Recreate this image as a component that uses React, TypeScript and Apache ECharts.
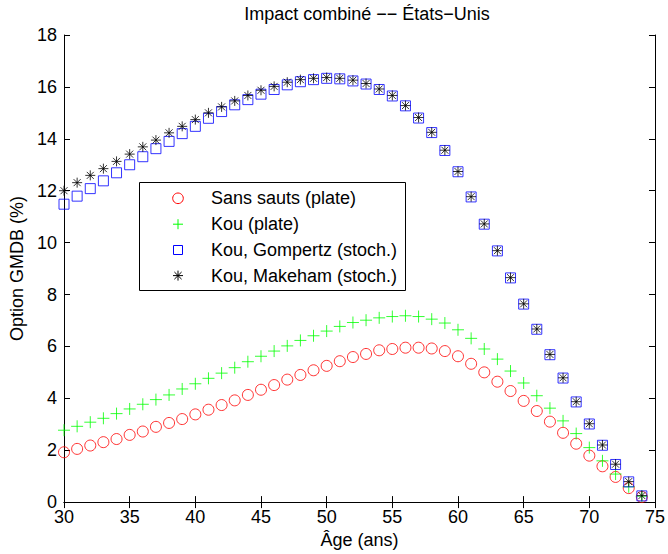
import React, { useEffect, useRef } from "react";
import * as echarts from "echarts";

const ages: number[] = [
  30, 31, 32, 33, 34, 35, 36, 37, 38, 39, 40, 41, 42, 43, 44, 45, 46, 47, 48, 49, 50, 51, 52,
  53, 54, 55, 56, 57, 58, 59, 60, 61, 62, 63, 64, 65, 66, 67, 68, 69, 70, 71, 72, 73, 74,
];

const sansSauts: number[] = [
  1.92, 2.05, 2.18, 2.31, 2.43, 2.59, 2.72, 2.9, 3.05, 3.2, 3.38, 3.56, 3.74, 3.92, 4.13, 4.33,
  4.51, 4.72, 4.9, 5.08, 5.25, 5.43, 5.59, 5.71, 5.85, 5.9, 5.95, 5.95, 5.92, 5.82, 5.62, 5.33,
  5.0, 4.64, 4.28, 3.9, 3.51, 3.1, 2.67, 2.25, 1.79, 1.38, 0.97, 0.54, 0.2,
];

const kouPlate: number[] = [
  2.77, 2.92, 3.08, 3.23, 3.41, 3.59, 3.77, 3.95, 4.13, 4.36, 4.56, 4.77, 4.97, 5.18, 5.41, 5.62,
  5.82, 6.02, 6.23, 6.41, 6.59, 6.77, 6.92, 7.01, 7.1, 7.15, 7.18, 7.15, 7.05, 6.9, 6.64, 6.31,
  5.9, 5.51, 5.05, 4.59, 4.1, 3.62, 3.13, 2.64, 2.1, 1.59, 1.08, 0.59, 0.23,
];

const kouGompertz: number[] = [
  11.48, 11.79, 12.08, 12.38, 12.69, 13.0, 13.31, 13.62, 13.9, 14.2, 14.48, 14.79, 15.05, 15.31,
  15.51, 15.72, 15.9, 16.08, 16.2, 16.28, 16.33, 16.31, 16.23, 16.11, 15.9, 15.65, 15.27, 14.8,
  14.24, 13.55, 12.73, 11.76, 10.71, 9.68, 8.64, 7.63, 6.66, 5.68, 4.78, 3.86, 3.01, 2.19, 1.45,
  0.78, 0.24,
];

const kouMakeham: number[] = [
  12.0, 12.31, 12.59, 12.85, 13.13, 13.41, 13.69, 13.95, 14.23, 14.48, 14.74, 15.0, 15.23, 15.46,
  15.67, 15.87, 16.02, 16.18, 16.28, 16.33, 16.36, 16.33, 16.26, 16.13, 15.92, 15.67, 15.28,
  14.82, 14.25, 13.56, 12.74, 11.77, 10.72, 9.69, 8.65, 7.64, 6.67, 5.69, 4.79, 3.87, 3.02, 2.2,
  1.46, 0.79, 0.25,
];

const seriesNames: string[] = [
  "Sans sauts (plate)",
  "Kou (plate)",
  "Kou, Gompertz (stoch.)",
  "Kou, Makeham (stoch.)",
];

const seriesColors: string[] = ["#ff0000", "#00ff00", "#0000ff", "#000000"];

const titleText = "Impact combiné −− États−Unis";
const xName = "Âge (ans)";
const yName = "Option GMDB (%)";

const FONT = "'Liberation Sans', Arial, Helvetica, sans-serif";

const PLUS = "path://M-5,0L5,0M0,-5L0,5";
const SQUARE = "path://M-5,-5L5,-5L5,5L-5,5Z";
const STAR = "path://M-5,0L5,0M0,-5L0,5M-3.5,-3.5L3.5,3.5M-3.5,3.5L3.5,-3.5";

function pairs(vals: number[]): number[][] {
  return ages.map((a, i) => [a, vals[i]]);
}

function legendIcon(kind: number, cx: number, cy: number, color: string): any {
  const st = { stroke: color, fill: "none", lineWidth: 1 };
  const ln = (x1: number, y1: number, x2: number, y2: number) => ({
    type: "line",
    shape: { x1: cx + x1, y1: cy + y1, x2: cx + x2, y2: cy + y2 },
    style: st,
  });
  if (kind === 0) return { type: "circle", shape: { cx, cy, r: 5.3 }, style: st };
  if (kind === 1) return { type: "group", children: [ln(-5, 0, 5, 0), ln(0, -5, 0, 5)] };
  if (kind === 2)
    return { type: "rect", shape: { x: cx - 4.5, y: cy - 4.5, width: 9, height: 9 }, style: st };
  return {
    type: "group",
    children: [
      ln(-5, 0, 5, 0),
      ln(0, -5, 0, 5),
      ln(-3.6, -3.6, 3.6, 3.6),
      ln(-3.6, 3.6, 3.6, -3.6),
    ],
  };
}

export default function App() {
  const ref = useRef<HTMLDivElement>(null);
  useEffect(() => {
    if (!ref.current) return;
    const chart = echarts.init(ref.current, undefined, { renderer: "svg" });
    const axisLine = { show: true, lineStyle: { color: "#000", width: 1 } };
    const tick = { show: true, inside: true, length: 6, lineStyle: { color: "#000", width: 1 } };
    const labelStyle = { color: "#000", fontSize: 18, fontFamily: FONT };
    const mk = (i: number, data: number[], symbol: string, size: number) => ({
      name: seriesNames[i],
      type: "scatter",
      data: pairs(data),
      symbol,
      symbolSize: size,
      itemStyle: { color: "transparent", borderColor: seriesColors[i], borderWidth: 1 },
      emphasis: { disabled: true },
      silent: true,
    });

    const legX = 139.5;
    const legY = 182.5;
    const rows = [198.3, 224.2, 250, 275.6];
    const legendChildren: any[] = [
      {
        type: "rect",
        shape: { x: legX, y: legY, width: 266, height: 108 },
        style: { fill: "#fff", stroke: "#000", lineWidth: 1 },
      },
    ];
    seriesNames.forEach((nm, i) => {
      legendChildren.push(legendIcon(i, 178, rows[i], seriesColors[i]));
      legendChildren.push({
        type: "text",
        x: 211,
        y: rows[i],
        style: {
          text: nm,
          fill: "#000",
          font: `18px ${FONT}`,
          align: "left",
          verticalAlign: "middle",
          textAlign: "left",
          textVerticalAlign: "middle",
        },
      });
    });

    chart.setOption({
      animation: false,
      backgroundColor: "#fff",
      title: {
        text: titleText,
        left: 362,
        top: 0,
        textAlign: "center",
        textStyle: { color: "#000", fontSize: 18, fontWeight: "normal", fontFamily: FONT },
      },
      grid: { left: 64, right: 10, top: 35, bottom: 51 },
      graphic: [{ type: "group", z: 100, children: legendChildren }],
      xAxis: [
        {
          type: "value",
          min: 30,
          max: 75,
          interval: 5,
          position: "bottom",
          axisLine,
          axisTick: tick,
          splitLine: { show: false },
          axisLabel: { ...labelStyle, margin: 6 },
          name: xName,
          nameLocation: "middle",
          nameGap: 27,
          nameTextStyle: labelStyle,
        },
        {
          type: "value",
          min: 30,
          max: 75,
          interval: 5,
          position: "top",
          axisLine,
          axisTick: tick,
          splitLine: { show: false },
          axisLabel: { show: false },
        },
      ],
      yAxis: [
        {
          type: "value",
          min: 0,
          max: 18,
          interval: 2,
          position: "left",
          axisLine,
          axisTick: tick,
          splitLine: { show: false },
          axisLabel: { ...labelStyle, margin: 7 },
          name: yName,
          nameLocation: "middle",
          nameGap: 28,
          nameTextStyle: labelStyle,
        },
        {
          type: "value",
          min: 0,
          max: 18,
          interval: 2,
          position: "right",
          axisLine,
          axisTick: tick,
          splitLine: { show: false },
          axisLabel: { show: false },
        },
      ],
      series: [
        mk(0, sansSauts, "circle", 11),
        mk(1, kouPlate, PLUS, 12),
        mk(2, kouGompertz, SQUARE, 10),
        mk(3, kouMakeham, STAR, 10),
      ],
    });
    return () => chart.dispose();
  }, []);
  return (
    <div
      ref={ref}
      style={{ position: "fixed", left: 0, top: 0, width: 668, height: 554, background: "#fff" }}
    />
  );
}
